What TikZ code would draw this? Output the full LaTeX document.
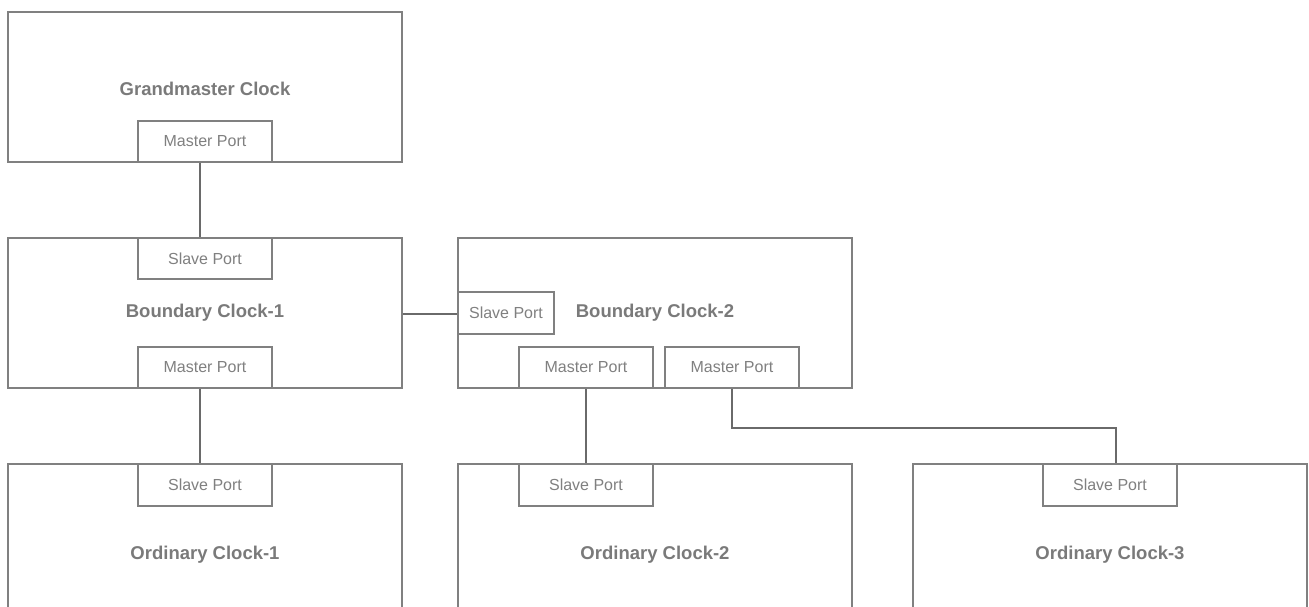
\documentclass[tikz,border=0pt]{standalone}
\usepackage{fontspec}
\setmainfont{Liberation Sans}
\definecolor{boxgray}{HTML}{808080}
\definecolor{txtgray}{HTML}{7A7A7A}
\definecolor{linegray}{HTML}{6A6A6A}
\begin{document}
\begin{tikzpicture}[x=1pt,y=-1pt,
  clocktext/.style={font=\fontsize{18.5}{22}\selectfont\bfseries, text=txtgray, inner sep=0pt},
  clock/.style={draw=boxgray, line width=2pt, fill=white, inner sep=0pt, clocktext},
  port/.style={draw=boxgray, line width=2pt, fill=white, inner sep=0pt,
    font=\fontsize{16}{19}\selectfont, text=boxgray},
  link/.style={draw=linegray, line width=1.2pt}]
\useasboundingbox (0,0) rectangle (1309,607);
\clip (0,0) rectangle (1309,607);

% clocks
\node[clock, minimum width=394, minimum height=150,
  label={[clocktext, yshift=-2pt]center:Grandmaster Clock}] (gm) at (205,87) {};
\node[clock, minimum width=394, minimum height=150] (bc1) at (205,313) {Boundary Clock-1};
\node[clock, minimum width=394, minimum height=150] (bc2) at (655,313) {Boundary Clock-2};
\node[clock, minimum width=394, minimum height=182] (oc1) at (205,555) {Ordinary Clock-1};
\node[clock, minimum width=394, minimum height=182] (oc2) at (655,555) {Ordinary Clock-2};
\node[clock, minimum width=394, minimum height=182] (oc3) at (1110,555) {Ordinary Clock-3};

% ports
\node[port, minimum width=134, minimum height=41] (gmp) at (205,141.5) {Master Port};
\node[port, minimum width=134, minimum height=41] (bc1s) at (205,258.5) {Slave Port};
\node[port, minimum width=134, minimum height=41] (bc1m) at (205,367.5) {Master Port};
\node[port, minimum width=96, minimum height=42] (bc2s) at (506,313) {Slave Port};
\node[port, minimum width=134, minimum height=41] (bc2m1) at (586,367.5) {Master Port};
\node[port, minimum width=134, minimum height=41] (bc2m2) at (732,367.5) {Master Port};
\node[port, minimum width=134, minimum height=42] (oc1s) at (205,485) {Slave Port};
\node[port, minimum width=134, minimum height=42] (oc2s) at (586,485) {Slave Port};
\node[port, minimum width=134, minimum height=42] (oc3s) at (1110,485) {Slave Port};

% connectors
\draw[link] ([xshift=-5pt]gmp.south) -- ([xshift=-5pt]bc1s.north);
\draw[link] ([yshift=-1pt]bc1.east) -- ([yshift=-1pt]bc2s.west);
\draw[link] ([xshift=-5pt]bc1m.south) -- ([xshift=-5pt]oc1s.north);
\draw[link] (bc2m1.south) -- (oc2s.north);
\draw[link] (bc2m2.south) -- ++(0,39) coordinate (bend) -| ([xshift=6pt]oc3s.north);
\end{tikzpicture}
\end{document}
